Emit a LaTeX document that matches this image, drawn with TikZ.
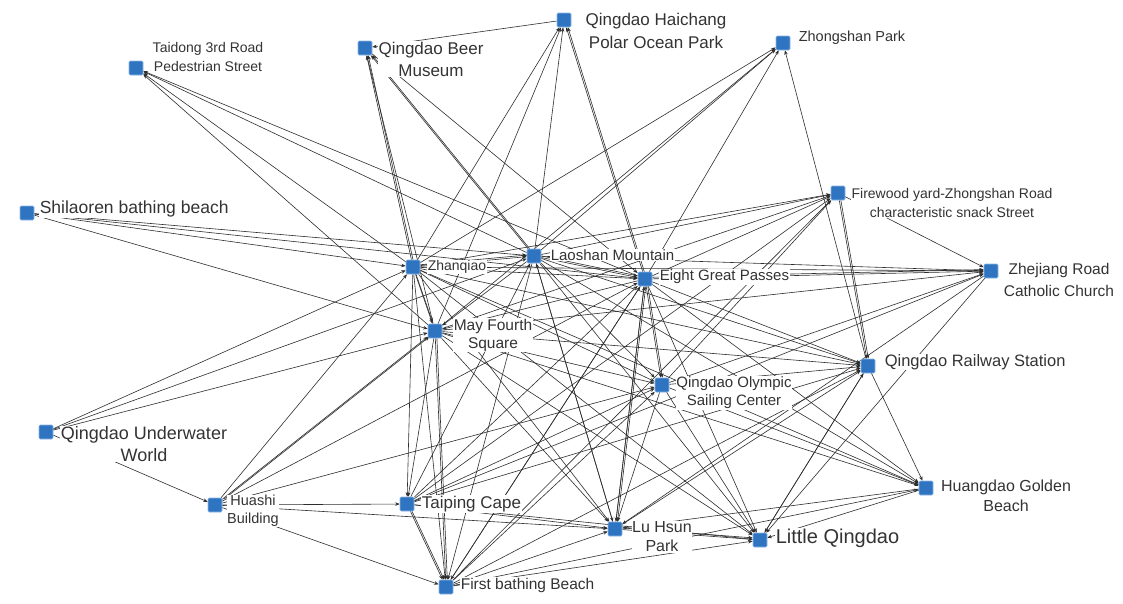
\documentclass[tikz,border=0pt]{standalone}
\usepackage{fontspec}
\setmainfont{Liberation Sans}
\usetikzlibrary{arrows.meta}
\pgfdeclarelayer{edgelayer}
\pgfdeclarelayer{labellayer}
\pgfsetlayers{edgelayer,labellayer,main}
\definecolor{sqblue}{HTML}{2F74C0}
\definecolor{sqrim}{HTML}{8DB8E6}
\definecolor{edgegray}{HTML}{2E2E2E}
\definecolor{txtgray}{HTML}{333333}
\begin{document}
\begin{tikzpicture}[x=1pt,y=-1pt,
  spot/.style={rectangle, fill=sqblue, draw=sqrim, line width=0.6pt, minimum size=14pt, inner sep=0pt, rounded corners=1.2pt},
  lbl/.style={fill=white, text=txtgray, inner sep=0.6pt, align=center},
  edge/.style={draw=edgegray, line width=0.6pt, -{Stealth[length=4.5pt,width=3.5pt]}},
  dblx/.style={transform canvas={xshift=1.6pt}},
  dbly/.style={transform canvas={yshift=1.6pt}}]
\useasboundingbox (0,0) rectangle (1123,603);
% squares
\node[spot] (TD) at (136,68) {};
\node[spot] (BM) at (365,48) {};
\node[spot] (HC) at (564,20) {};
\node[spot] (ZP) at (783,43) {};
\node[spot] (SL) at (27,213) {};
\node[spot] (FW) at (838,193) {};
\node[spot] (ZJ) at (991,271) {};
\node[spot] (ZQ) at (413,267) {};
\node[spot] (LS) at (534,256) {};
\node[spot] (EG) at (645,279) {};
\node[spot] (MF) at (435,331) {};
\node[spot] (RS) at (868,366) {};
\node[spot] (OS) at (662,385) {};
\node[spot] (UW) at (46,432) {};
\node[spot] (HB) at (215,505) {};
\node[spot] (TC) at (407,504) {};
\node[spot] (LH) at (615,529) {};
\node[spot] (LQ) at (760,540) {};
\node[spot] (HG) at (926,488) {};
\node[spot] (FB) at (446,587) {};
% labels
\begin{pgfonlayer}{labellayer}
\node[lbl, font=\fontsize{14}{19}\selectfont] (lTD) at (208,57) {Taidong 3rd Road\\Pedestrian Street};
\node[lbl, font=\fontsize{17}{22}\selectfont] (lBM) at (431,59) {Qingdao Beer\\Museum};
\node[lbl, font=\fontsize{17}{23}\selectfont] (lHC) at (656,31) {Qingdao Haichang\\Polar Ocean Park};
\node[lbl, font=\fontsize{14.5}{18}\selectfont, anchor=west] (lZP) at (798,38) {Zhongshan Park};
\node[lbl, font=\fontsize{17.5}{21}\selectfont, anchor=west] (lSL) at (39,209) {Shilaoren bathing beach};
\node[lbl, font=\fontsize{14}{19}\selectfont] (lFW) at (952,203) {Firewood yard-Zhongshan Road\\characteristic snack Street};
\node[lbl, font=\fontsize{15.5}{22}\selectfont] (lZJ) at (1059,280) {Zhejiang Road\\Catholic Church};
\node[lbl, font=\fontsize{14}{17}\selectfont, anchor=west] (lZQ) at (427,267) {Zhanqiao};
\node[lbl, font=\fontsize{15}{18}\selectfont, anchor=west] (lLS) at (550,255) {Laoshan Mountain};
\node[lbl, font=\fontsize{15}{18}\selectfont, anchor=west] (lEG) at (659,277) {Eight Great Passes};
\node[lbl, font=\fontsize{15.5}{18}\selectfont] (lMF) at (493,335) {May Fourth\\Square};
\node[lbl, font=\fontsize{16.5}{20}\selectfont, anchor=west] (lRS) at (884,362) {Qingdao Railway Station};
\node[lbl, font=\fontsize{15}{18}\selectfont] (lOS) at (734,393) {Qingdao Olympic\\Sailing Center};
\node[lbl, font=\fontsize{18}{22}\selectfont] (lUW) at (144,444) {Qingdao Underwater\\World};
\node[lbl, font=\fontsize{14.5}{18}\selectfont] (lHB) at (253,511) {Huashi\\Building};
\node[lbl, font=\fontsize{17}{20}\selectfont, anchor=west] (lTC) at (421,504) {Taiping Cape};
\node[lbl, font=\fontsize{16}{19}\selectfont] (lLH) at (662,537) {Lu Hsun\\Park};
\node[lbl, font=\fontsize{20}{24}\selectfont, anchor=west] (lLQ) at (775,538) {Little Qingdao};
\node[lbl, font=\fontsize{16}{20}\selectfont] (lHG) at (1006,496) {Huangdao Golden\\Beach};
\node[lbl, font=\fontsize{15.5}{18}\selectfont, anchor=west] (lFB) at (460,585) {First bathing Beach};
\end{pgfonlayer}
% edges
\begin{pgfonlayer}{edgelayer}
\fill[white] (0,0) rectangle (1123,603);
\foreach \a/\b in {LS/TD, ZQ/TD, MF/TD, EG/TD,
  SL/ZQ, SL/LS, SL/EG, SL/MF,
  UW/ZQ, UW/LS, UW/MF, UW/HB,
  HB/ZQ, HB/EG, HB/OS, HB/TC, HB/LH, HB/FB,
  MF/BM, BM/EG, HC/BM, ZQ/HC, MF/HC, LS/HC,
  ZQ/ZP, LS/ZP, MF/ZP, EG/ZP, RS/ZP,
  ZQ/FW, LS/FW, EG/FW, MF/FW, TC/FW, OS/FW, FB/FW, FW/ZJ,
  LS/ZJ, ZQ/ZJ, MF/ZJ, OS/ZJ, ZJ/LH, ZJ/LQ, TC/ZJ,
  ZQ/EG, LS/MF, EG/MF, ZQ/TC, MF/TC, ZQ/FB, LS/FB, EG/FB,
  LS/LH, ZQ/LH, MF/LH, OS/LH, TC/LH, TC/LQ, FB/LH, FB/LQ,
  LS/LQ, EG/LQ, ZQ/LQ, MF/LQ, OS/LQ, RS/LQ, HG/LQ, HG/LH, FB/HG,
  LS/HG, EG/HG, ZQ/HG, MF/HG, OS/HG, RS/HG,
  TC/OS, FB/OS, LS/OS, ZQ/OS, MF/OS, OS/RS,
  LS/RS, EG/RS, ZQ/RS, MF/RS, LH/RS, LQ/RS, FB/RS, TC/RS,
  TC/EG, TC/LS, FB/EG, LH/LS, LH/EG}
  \draw[edge] (\a) -- (\b);
% doubled connectors
\foreach \a/\b in {HB/MF, ZQ/BM, LS/BM, EG/HC, FW/RS, MF/FB, TC/FB, EG/LH, EG/OS}
  {\draw[edge] (\a) -- (\b); \draw[edge, dblx] (\a) -- (\b);}
\foreach \a/\b in {EG/ZJ, ZQ/LS, LS/EG, ZQ/MF, LH/LQ}
  {\draw[edge] (\a) -- (\b); \draw[edge, dbly] (\a) -- (\b);}
\end{pgfonlayer}
\end{tikzpicture}
\end{document}
